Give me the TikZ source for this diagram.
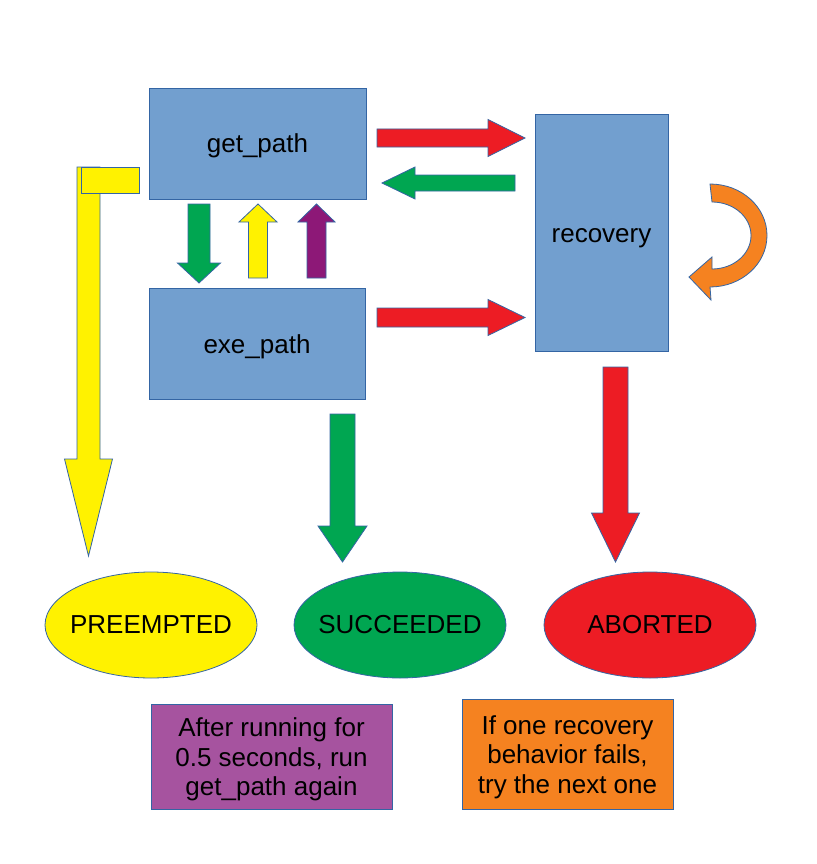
\documentclass[tikz,border=0pt]{standalone}
\usepackage{fontspec}
\setmainfont{Liberation Sans}
\usetikzlibrary{shapes.geometric}
\definecolor{edgeblue}{HTML}{3465A4}
\definecolor{boxblue}{HTML}{729FCF}
\definecolor{myred}{HTML}{ED1C24}
\definecolor{mygreen}{HTML}{00A651}
\definecolor{myyellow}{HTML}{FFF200}
\definecolor{mypurple}{HTML}{8D1877}
\definecolor{boxpurple}{HTML}{A6539F}
\definecolor{myorange}{HTML}{F58220}
\tikzset{
  outl/.style={draw=edgeblue, line width=0.8pt},
  bigfont/.style={font=\fontsize{26}{29.5}\selectfont},
  statebox/.style={outl, fill=boxblue, rectangle, inner sep=0pt, bigfont, text height=19pt, text depth=0pt},
  endstate/.style={outl, ellipse, inner sep=0pt, minimum width=212pt, minimum height=106pt, bigfont, text height=17pt, text depth=0pt},
  notebox/.style={outl, rectangle, inner sep=0pt, bigfont},
}
% first baseline placed 20pt above the node centre
\newcommand{\notetext}[1]{\raisebox{20pt}[0pt][0pt]{\begin{tabular}[t]{@{}c@{}}#1\end{tabular}}}
% #1 colour, #2 tail point, #3 angle, #4 length, #5 shaft half width, #6 head half width, #7 head length
\newcommand{\blockarrow}[7]{%
  \begin{scope}[shift={#2},rotate=#3]
    \filldraw[outl, fill=#1] (0,-#5) -- ({#4-#7},-#5) -- ({#4-#7},-#6) -- (#4,0)
      -- ({#4-#7},#6) -- ({#4-#7},#5) -- (0,#5) -- cycle;
  \end{scope}}
\begin{document}
\begin{tikzpicture}[x=1pt,y=-1pt]
\useasboundingbox[fill=white] (0,0) rectangle (816,864);

% state boxes
\node[statebox, minimum width=217pt, minimum height=111pt] (get) at (257.5,143.5) {get\_path};
\node[statebox, minimum width=216pt, minimum height=111pt] (exe) at (257,343.5) {exe\_path};
\node[statebox, minimum width=133pt, minimum height=237pt] (rec) at (601.5,232.5) {recovery};

% end states
\node[endstate, fill=myyellow] (pre) at (151,625) {\makebox[0pt]{PREEMPTED}};
\node[endstate, fill=mygreen] (suc) at (400,625) {\makebox[0pt]{SUCCEEDED}};
\node[endstate, fill=myred] (abo) at (650,625) {\makebox[0pt]{ABORTED}};

% notes
\node[notebox, fill=boxpurple, minimum width=241pt, minimum height=105pt] (note1) at (271.5,756.5)
  {\notetext{After running for\\0.5 seconds, run\\get\_path again}};
\node[notebox, fill=myorange, minimum width=211pt, minimum height=110pt] (note2) at (567.5,754)
  {\notetext{If one recovery\\behavior fails,\\try the next one}};

% block arrows between boxes
\blockarrow{myred}{(377,138)}{0}{148}{9}{18.5}{37}
\blockarrow{mygreen}{(515,183)}{180}{133}{8}{16}{33}
\blockarrow{myred}{(377,317.5)}{0}{148}{9.5}{18}{37}
\blockarrow{mygreen}{(199,204)}{-90}{79}{11}{21.5}{20}
\blockarrow{myyellow}{(258,278)}{90}{74}{9.5}{19}{18}
\blockarrow{mypurple}{(316.5,278)}{90}{74}{9.5}{18.5}{18}

% arrows to end states
\blockarrow{myyellow}{(88.5,167)}{-90}{389}{11.5}{24}{97}
\filldraw[outl, fill=myyellow] (81,167) rectangle (139,193);
\blockarrow{mygreen}{(342.5,414)}{-90}{148}{12.5}{24.5}{36}
\blockarrow{myred}{(615.5,367)}{-90}{195}{12.5}{24}{49}

% circular recovery arrow
\filldraw[outl, fill=myorange] (710,184) arc[start angle=-90, end angle=90, x radius=57, y radius=51.5]
  -- (711,300) -- (689,277) -- (712,257) -- (712,269)
  arc[start angle=90, end angle=-90, x radius=39, y radius=33.5] -- cycle;
\end{tikzpicture}
\end{document}
